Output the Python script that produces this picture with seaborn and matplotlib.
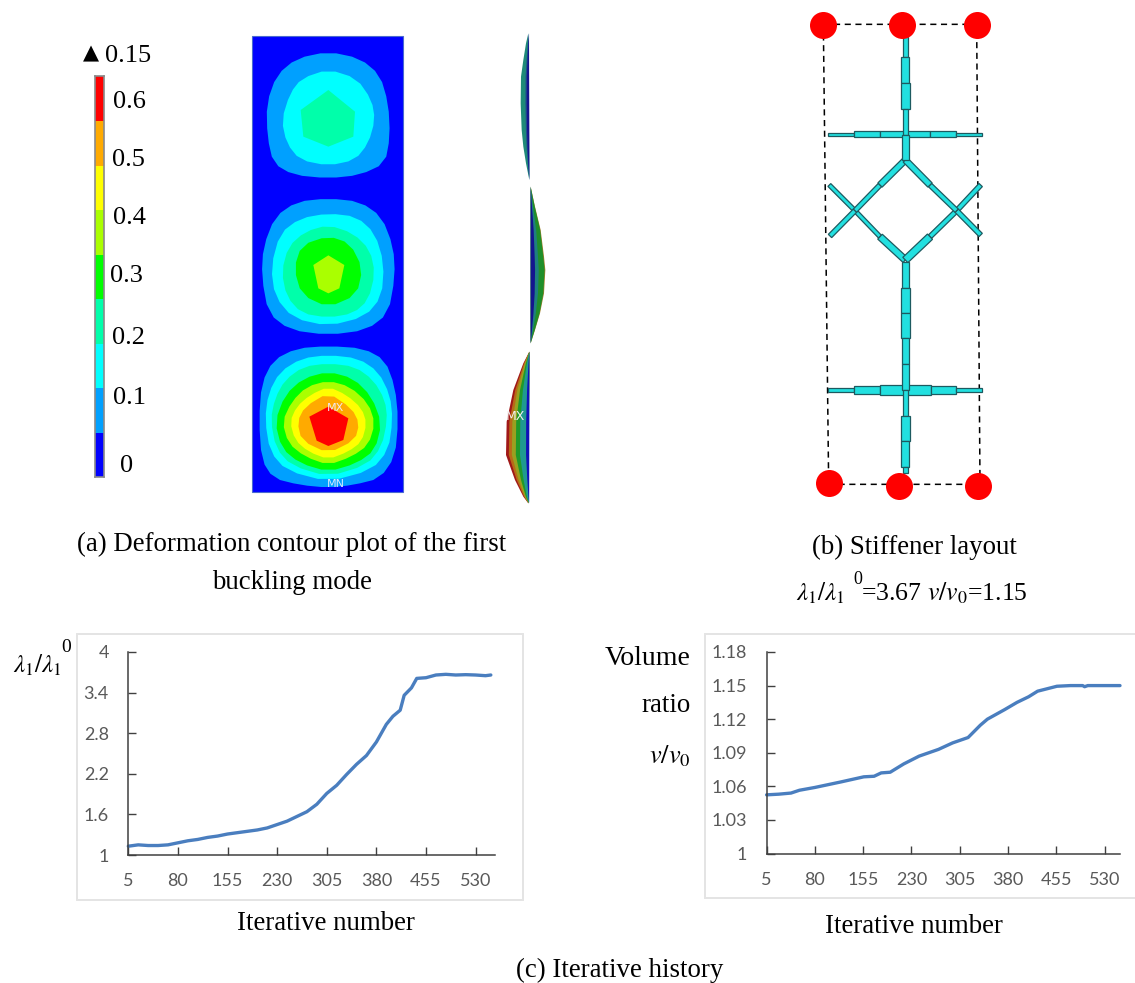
import matplotlib
matplotlib.use("Agg")
import matplotlib.pyplot as plt
import numpy as np
import pandas as pd
import seaborn as sns
from matplotlib.colors import ListedColormap
from matplotlib.patches import Rectangle

W, H = 1135, 983

# level colours, low to high
level_colors = ["#0000ff", "#00a0ff", "#00ffff", "#00ffaa", "#00ff00",
                "#aaff00", "#ffff00", "#ffaa00", "#ff0000"]
bar_labels = ["0.6", "0.5", "0.4", "0.3", "0.2", "0.1", "0"]
bar_label_x = [113, 112, 113, 110, 112, 113, 120]
bar_label_y = [99, 157, 216, 274, 336, 396, 464]

# contour outlines of the three lobes: (level, x list, y list), crop units of panel (a)
lobe1 = [
    (1, [805, 900, 960, 985, 990, 975, 900, 805, 700, 640, 622, 620, 650, 710],
        [95, 115, 165, 250, 350, 430, 465, 475, 465, 430, 350, 250, 165, 115]),
    (2, [805, 890, 935, 945, 925, 885, 805, 720, 680, 665, 690, 725],
        [148, 175, 240, 300, 370, 420, 437, 420, 370, 300, 220, 175]),
]
lobe1_core = (3, [805, 885, 880, 805, 730, 722], [210, 275, 350, 380, 350, 270])
lobe2 = [
    (1, [805, 900, 965, 1000, 1005, 985, 920, 805, 690, 625, 605, 610, 645, 710],
        [535, 545, 590, 680, 770, 880, 930, 945, 930, 880, 770, 680, 590, 545]),
    (2, [805, 890, 945, 972, 965, 915, 805, 700, 645, 633, 660, 720],
        [580, 590, 640, 730, 830, 890, 918, 895, 830, 740, 640, 595]),
    (3, [805, 880, 930, 945, 925, 880, 805, 725, 680, 665, 685, 735],
        [615, 640, 690, 760, 840, 880, 893, 880, 830, 755, 680, 635]),
    (4, [805, 870, 908, 890, 805, 725, 702, 725], [648, 670, 745, 825, 862, 825, 745, 675]),
]
lobe2_core = (5, [805, 853, 838, 805, 775, 760], [706, 735, 805, 820, 805, 735])
lobe3 = [
    (1, [805, 910, 975, 1005, 1015, 1005, 960, 880, 805, 720, 640, 605, 597, 605, 640, 710],
        [978, 985, 1020, 1100, 1200, 1310, 1375, 1395, 1403, 1395, 1375, 1320, 1200, 1090, 1020, 985]),
    (2, [805, 895, 955, 990, 998, 985, 935, 805, 680, 630, 615, 625, 660, 725],
        [1005, 1015, 1055, 1125, 1200, 1290, 1350, 1385, 1352, 1295, 1200, 1120, 1055, 1015]),
    (3, [805, 885, 940, 975, 982, 965, 920, 805, 695, 648, 632, 645, 675, 730],
        [1030, 1040, 1080, 1140, 1200, 1280, 1335, 1370, 1337, 1285, 1200, 1135, 1080, 1040]),
    (4, [805, 880, 935, 965, 945, 890, 805, 720, 665, 645, 675, 730],
        [1055, 1075, 1130, 1210, 1290, 1330, 1355, 1330, 1285, 1205, 1125, 1075]),
    (5, [805, 870, 925, 945, 925, 875, 805, 735, 685, 667, 695, 740],
        [1082, 1100, 1150, 1210, 1275, 1310, 1335, 1310, 1270, 1205, 1145, 1100]),
    (6, [805, 860, 905, 920, 905, 865, 805, 745, 705, 690, 710, 750],
        [1100, 1125, 1165, 1210, 1265, 1295, 1318, 1295, 1260, 1205, 1160, 1125]),
    (7, [805, 875, 898, 885, 805, 725, 712, 735], [1118, 1165, 1210, 1260, 1300, 1262, 1205, 1160]),
]
red_core = (8, [805, 865, 850, 805, 770, 748], [1160, 1195, 1260, 1278, 1262, 1190])

# side view profile, crop units of the side panel
side1_x = [115, 108, 100, 93, 92, 95, 100, 108, 118]
side1_y = [40, 70, 120, 170, 250, 330, 380, 430, 480]
side1_flat = 118
side1_bands = [(1.0, "#1f8a78"), (0.45, "#1d4f8c"), (0.3, "#14148e")]
side2_x = [122, 135, 152, 162, 166, 162, 150, 135, 122]
side2_y = [500, 560, 630, 710, 750, 820, 880, 930, 970]
side2_flat = 122
side2_bands = [(1.0, "#a5802a"), (0.95, "#1f8f2a"), (0.55, "#1f7f80"), (0.3, "#14148e")]
side3_x = [118, 100, 70, 50, 48, 75, 100, 115]
side3_y = [995, 1030, 1110, 1205, 1305, 1380, 1430, 1450]
side3_flat = 118
side3_bands = [(1.0, "#a01818"), (0.88, "#b86a18"), (0.75, "#9aa020"), (0.58, "#1f9a2a"),
               (0.4, "#1f9a90"), (0.14, "#1010b8")]

# stiffener layout, crop units of panel (b): x0, y0, x1, y1, width
stiff_vert = [
    (346, 110, 346, 172, 16), (346, 172, 346, 250, 24), (346, 250, 346, 328, 28),
    (346, 328, 346, 405, 16), (346, 405, 346, 480, 20),
    (346, 785, 346, 865, 20), (346, 865, 346, 940, 28), (346, 940, 346, 1015, 26),
    (346, 1015, 346, 1092, 22), (346, 1092, 346, 1170, 20), (346, 1170, 346, 1247, 16),
    (346, 1247, 346, 1322, 28), (346, 1322, 346, 1400, 24), (346, 1400, 346, 1420, 16),
]
stiff_horiz = [
    (115, 403, 193, 403, 10), (193, 403, 270, 403, 18), (270, 403, 345, 403, 18),
    (345, 403, 420, 403, 18), (420, 403, 498, 403, 18), (498, 403, 575, 403, 10),
    (115, 1170, 193, 1170, 10), (193, 1170, 270, 1170, 22), (270, 1170, 345, 1170, 30),
    (345, 1170, 422, 1170, 30), (422, 1170, 498, 1170, 22), (498, 1170, 575, 1170, 10),
]
stiff_diag = [
    (118, 555, 195, 632, 12), (195, 632, 270, 710, 12), (270, 710, 346, 780, 20),
    (120, 708, 195, 632, 14), (195, 632, 270, 555, 14), (270, 555, 346, 480, 18),
    (572, 555, 500, 632, 14), (500, 632, 420, 710, 14), (420, 710, 346, 780, 22),
    (572, 705, 500, 632, 14), (500, 632, 420, 555, 14), (420, 555, 346, 480, 18),
]
dots_x = [100, 336, 560, 116, 328, 564]
dots_y = [75, 75, 75, 1450, 1457, 1457]
frame_x = [100, 560, 570, 116, 100]
frame_y = [73, 73, 1453, 1453, 73]

# iteration history
iter_ticks = [5, 80, 155, 230, 305, 380, 455, 530]
x_lam = [5, 20, 35, 50, 65, 80, 95, 110, 125, 140, 155, 170, 185, 200, 215, 230, 245, 260, 275,
         290, 305, 320, 335, 350, 365, 380, 395, 405, 416, 422, 433, 441, 455, 470, 485, 500,
         515, 530, 545, 553]
y_lam = [1.13, 1.15, 1.14, 1.14, 1.15, 1.18, 1.21, 1.23, 1.26, 1.28, 1.31, 1.33, 1.35, 1.37, 1.40,
         1.45, 1.50, 1.57, 1.64, 1.75, 1.91, 2.03, 2.19, 2.34, 2.47, 2.67, 2.93, 3.05, 3.14, 3.36,
         3.47, 3.61, 3.62, 3.66, 3.67, 3.66, 3.665, 3.66, 3.65, 3.66]
lam_ticks = [1, 1.6, 2.2, 2.8, 3.4, 4]
x_vol = [5, 24, 43, 56, 80, 121, 156, 172, 183, 197, 218, 242, 272, 294, 318, 337, 348, 375, 394,
         412, 426, 456, 477, 496, 499, 504, 554]
y_vol = [1.0524, 1.053, 1.054, 1.0565, 1.059, 1.064, 1.0685, 1.069, 1.072, 1.0726, 1.080, 1.087,
         1.093, 1.0988, 1.1036, 1.1146, 1.12, 1.1286, 1.135, 1.14, 1.145, 1.1494, 1.15, 1.15,
         1.149, 1.15, 1.15]
vol_ticks = [1, 1.03, 1.06, 1.09, 1.12, 1.15, 1.18]

sns.set_theme(style="white")
plt.rcParams["font.family"] = ["Liberation Serif", "DejaVu Serif"]
plt.rcParams["mathtext.fontset"] = "stix"

fig = plt.figure(figsize=(W / 100, H / 100), dpi=100, facecolor="white")


def add_ax(x0, y0, x1, y1):
    # axes placed by its pixel box in the 1135x983 picture
    return fig.add_axes([x0 / W, 1 - y1 / H, (x1 - x0) / W, (y1 - y0) / H])


def put(x, y, s, size=19.4, **kw):
    kw.setdefault("color", "black")
    fig.text(x / W, 1 - (y + 2.5) / H, s, fontsize=size, va="center", **kw)


def smooth(xs, ys, rounds=1):
    # corner cutting so the contour bands read as rounded
    p = np.column_stack([xs, ys]).astype(float)
    for _ in range(rounds):
        q = np.roll(p, -1, axis=0)
        out = np.empty((len(p) * 2, 2))
        out[0::2] = 0.75 * p + 0.25 * q
        out[1::2] = 0.25 * p + 0.75 * q
        p = out
    return p[:, 0], p[:, 1]


# ---- (a) contour panel ----
ax = add_ax(60, 20, 560, 510)
ax.set_xlim(0, 1500)
ax.set_ylim(1470, 0)
ax.axis("off")
ax.add_patch(Rectangle((577, 47), 453, 1369, fc=level_colors[0], ec="#4a6ad0", lw=0.8))
for lev, xs, ys in lobe1 + lobe2 + lobe3:
    sx, sy = smooth(xs, ys)
    ax.fill(sx, sy, color=level_colors[lev], lw=0)
for lev, xs, ys in [lobe1_core, lobe2_core, red_core]:
    ax.fill(xs, ys, color=level_colors[lev], lw=0)
ax.text(828, 1165, "MX", color="#f0e8f0", fontsize=8, ha="center", va="center", family="DejaVu Sans")
ax.text(828, 1393, "MN", color="#d8e8ff", fontsize=8, ha="center", va="center", family="DejaVu Sans")

# ---- (a) colour scale ----
cbar_ax = add_ax(94.5, 76.5, 103.5, 477.5)
levels = np.arange(len(level_colors))[::-1].reshape(-1, 1)
sns.heatmap(levels, ax=cbar_ax, cmap=ListedColormap(level_colors), cbar=False,
            xticklabels=False, yticklabels=False, vmin=-0.5, vmax=8.5)
for s in cbar_ax.spines.values():
    s.set_visible(True)
    s.set_color("#8a8a8a")
    s.set_linewidth(1.2)
put(83, 51, "▲", size=15, family="DejaVu Sans")
put(105, 54, "0.15", size=19)
for lx, ly, lab in zip(bar_label_x, bar_label_y, bar_labels):
    put(lx, ly, lab, size=19)

# ---- (a) side view ----
side = add_ax(490, 20, 560, 510)
side.set_xlim(0, 210)
side.set_ylim(1470, 0)
side.axis("off")
for xs, ys, flat, bands in [(side1_x, side1_y, side1_flat, side1_bands),
                            (side2_x, side2_y, side2_flat, side2_bands),
                            (side3_x, side3_y, side3_flat, side3_bands)]:
    for frac, col in bands:
        side.fill(flat + frac * (np.array(xs) - flat), ys, color=col, lw=0)
side.text(75, 1190, "MX", color="#f4f0f0", fontsize=9, ha="center", va="center", family="DejaVu Sans")

# ---- (b) stiffener layout ----
bx = add_ax(790, 0, 1010, 510)
bx.set_xlim(0, 660)
bx.set_ylim(1530, 0)
bx.axis("off")
bx.plot(frame_x, frame_y, color="black", lw=1.1, ls=(0, (4, 3)), zorder=1)
for x0, y0, x1, y1, wd in stiff_horiz + stiff_diag + stiff_vert:
    d = np.array([x1 - x0, y1 - y0], dtype=float)
    n = np.array([-d[1], d[0]]) / np.hypot(*d) * wd / 2
    bx.fill([x0 + n[0], x1 + n[0], x1 - n[0], x0 - n[0]], [y0 + n[1], y1 + n[1], y1 - n[1], y0 - n[1]],
            fc="#22e0e0", ec="#1d5a60", lw=0.9, zorder=2)
sns.scatterplot(x=dots_x, y=dots_y, ax=bx, color="#ff0000", s=378, lw=0, zorder=3, legend=False)
bx.set_xlim(0, 660)
bx.set_ylim(1530, 0)

# ---- (c) history charts ----
for x0, y0, wd, ht in [(76.5, 900, 446, 266), (704.5, 898, 460, 264)]:
    fig.add_artist(Rectangle((x0 / W, 1 - y0 / H), wd / W, ht / H, transform=fig.transFigure,
                             fc="white", ec="#e4e4e4", lw=1.4, zorder=-1))

df_lam = pd.DataFrame({"iter": x_lam, "ratio": y_lam})
df_vol = pd.DataFrame({"iter": x_vol, "ratio": y_vol})
charts = [
    (add_ax(128.3, 652, 495, 855), df_lam, lam_ticks, [str(t) for t in lam_ticks], (5, 559.3)),
    (add_ax(766.6, 652, 1120, 853.5), df_vol, vol_ticks, ["1", "1.03", "1.06", "1.09", "1.12", "1.15", "1.18"], (5, 554)),
]
for c_ax, df, yt, yl, xlim in charts:
    sns.lineplot(data=df, x="iter", y="ratio", ax=c_ax, color="#4a7ebf", lw=2.4, clip_on=False)
    c_ax.set_xlim(*xlim)
    c_ax.set_ylim(yt[0], yt[-1])
    c_ax.set_xticks(iter_ticks)
    c_ax.set_yticks(yt)
    c_ax.set_yticklabels(yl)
    c_ax.set_xlabel("")
    c_ax.set_ylabel("")
    c_ax.patch.set_alpha(0)
    c_ax.spines[["top", "right"]].set_visible(False)
    c_ax.spines[["left", "bottom"]].set_color("#404040")
    c_ax.spines[["left", "bottom"]].set_linewidth(1.1)
    c_ax.tick_params(axis="both", direction="in", length=6, width=1.0, color="#404040",
                     labelcolor="#595959", labelsize=13, left=True, bottom=True)
    c_ax.tick_params(axis="x", pad=13)
    c_ax.tick_params(axis="y", pad=14)
    for t in c_ax.get_xticklabels() + c_ax.get_yticklabels():
        t.set_family("Lato")

# ---- captions ----
put(292, 542, "(a) Deformation contour plot of the first", ha="center")
put(292, 580, "buckling mode", ha="center")
put(914, 545, "(b) Stiffener layout", ha="center")
put(796, 591, r"$\lambda_1/\lambda_1$", size=18)
put(853, 577, "0", size=13)
put(861, 591, r"=3.67 $v/v_0$=1.15", size=18.5)
put(13, 663, r"$\lambda_1/\lambda_1$", size=18)
put(61, 645, "0", size=14)
put(326, 921, "Iterative number", ha="center")
put(914, 924, "Iterative number", ha="center")
put(620, 968, "(c) Iterative history", ha="center")
put(691, 656, "Volume", ha="right", size=20)
put(691, 703, "ratio", ha="right")
put(691, 754, r"$v/v_0$", ha="right", size=19)

fig.savefig("out.png", dpi=100)
